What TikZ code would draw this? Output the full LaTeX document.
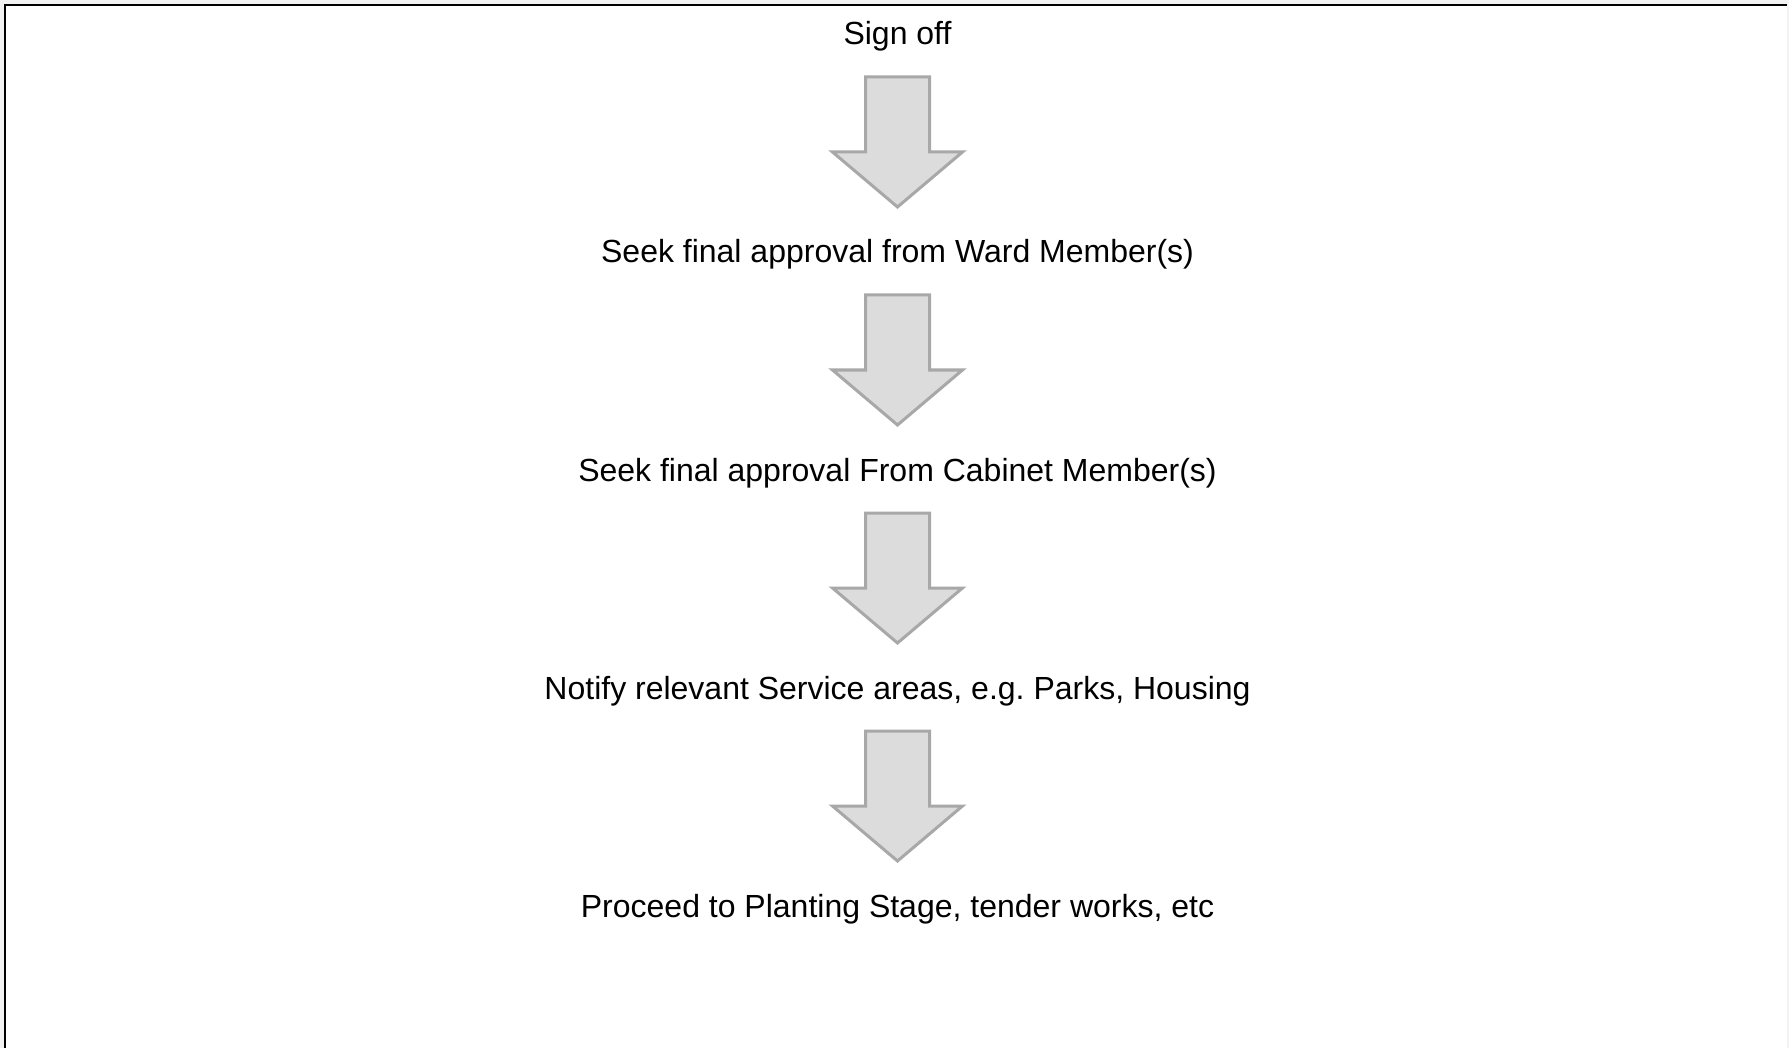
\documentclass[tikz,border=0pt]{standalone}
\usepackage{fontspec}
\setmainfont{Liberation Sans}
\frenchspacing
\definecolor{outer}{HTML}{F2F2F2}
\definecolor{arrfill}{HTML}{DCDCDC}
\definecolor{arrline}{HTML}{A8A8A8}
\tikzset{
  steptext/.style={anchor=base, inner sep=0pt, font=\fontsize{16}{19}\selectfont, text=black},
  blockarrow/.style={fill=arrfill, draw=arrline, line width=1.5pt, line join=miter},
}
\newcommand{\downblock}[1]{%
  \path[blockarrow] ($(#1)+(-32,0)$) -- ($(#1)+(32,0)$) -- ($(#1)+(32,75)$) -- ($(#1)+(65,75)$)
     -- ($(#1)+(0,130)$) -- ($(#1)+(-65,75)$) -- ($(#1)+(-32,75)$) -- cycle;}
\usetikzlibrary{calc}
\begin{document}
\begin{tikzpicture}[x=0.5pt,y=-0.5pt]
\useasboundingbox (0,0) rectangle (1789,1048);
\fill[outer] (0,0) rectangle (1789,1048);
\fill[white] (5,5) rectangle (1787,1048);
\draw[black, line width=1pt] (5,1048) -- (5,5) -- (1787,5);

\node[steptext] (s1) at (897.5,45) {Sign off};
\node[steptext] (s2) at (897.5,263) {Seek final approval from Ward Member(s)};
\node[steptext] (s3) at (897.5,481) {Seek final approval From Cabinet Member(s)};
\node[steptext] (s4) at (897.5,699) {Notify relevant Service areas, e.g. Parks, Housing};
\node[steptext] (s5) at (897.5,917) {Proceed to Planting Stage, tender works, etc};

\coordinate (a1) at (897.5,77);
\coordinate (a2) at (897.5,295);
\coordinate (a3) at (897.5,513);
\coordinate (a4) at (897.5,731);
\downblock{a1}
\downblock{a2}
\downblock{a3}
\downblock{a4}
\end{tikzpicture}
\end{document}
